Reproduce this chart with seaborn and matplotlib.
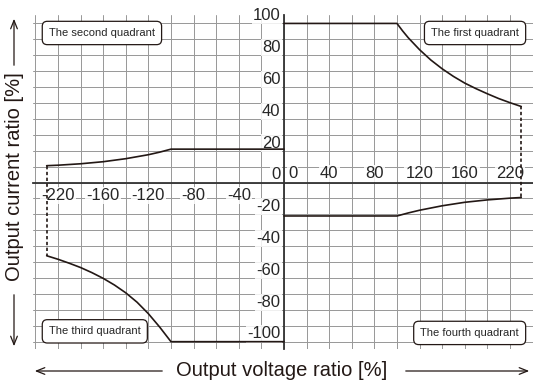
import numpy as np
import matplotlib
matplotlib.use("Agg")
import matplotlib.pyplot as plt
import seaborn as sns

# Data (output voltage ratio [%] vs output current ratio [%])
q1_volt = [0, 100, 105, 110, 120, 130, 140, 150, 160, 170, 180, 190, 200, 210]
q1_curr = [100, 100, 95.3, 91, 83.5, 77, 71.5, 66.7, 62.5, 59, 55.8, 52.8, 50.2, 47.8]

q2_volt = [0, -100, -110, -120, -140, -160, -180, -200, -210]
q2_curr = [21, 21, 19.1, 17.5, 15, 13.1, 11.8, 10.9, 10.6]

q3_volt = [-210, -200, -190, -180, -170, -160, -150, -140, -130, -120, -110, -105, -100, 0]
q3_curr = [-46, -48.2, -50.7, -53.4, -56.6, -60.2, -64.4, -69.3, -75.2, -82.4, -90.8, -95.4, -100, -100]

q4_volt = [0, 100, 110, 120, 140, 160, 180, 200, 210]
q4_curr = [-21, -21, -19.1, -17.4, -14.6, -12.4, -10.9, -9.8, -9.4]

# tick labels as printed on the chart
xlab_pos_right = [0, 40, 80, 120, 160, 200]
xlab_text_right = ["0", "40", "80", "120", "160", "220"]
xlab_pos_left = [-200, -160, -120, -80, -40]
xlab_text_left = ["-220", "-160", "-120", "-80", "-40"]
ylab_pos = [100, 80, 60, 40, 20, 0, -20, -40, -60, -80, -100]
ylab_text = [str(v) for v in ylab_pos]

quadrant_names = ["The first quadrant", "The second quadrant",
                  "The third quadrant", "The fourth quadrant"]

sns.set_theme(style="white")
plt.rcParams["font.family"] = ["Liberation Sans", "DejaVu Sans"]

W, H = 533, 382
fig = plt.figure(figsize=(W / 100, H / 100), dpi=100)
fig.patch.set_facecolor("white")


def fx(px):
    return px / W


def fy(py):
    return 1 - py / H


ax = fig.add_axes([fx(33), fy(349), 500 / W, 334 / H])
ax.set_facecolor("white")
ax.set_xlim(-222.1, 220.4)
ax.set_ylim(-104.6, 105.3)

line_c = "#231815"
grid_c = "#9a9a9a"
axis_c = "#333333"

# graph paper grid
ax.set_xticks(np.arange(-220, 221, 20), minor=True)
ax.set_yticks(np.arange(-100, 101, 10), minor=True)
ax.set_xticks([p for p in xlab_pos_left + xlab_pos_right if p != 0])
ax.set_yticks([p for p in ylab_pos if p != 0])
ax.grid(which="both", color=grid_c, lw=0.72, zorder=0)
ax.set_xticklabels([])
ax.set_yticklabels([])
ax.tick_params(which="minor", length=0)
ax.tick_params(which="major", direction="inout", length=5, width=1.0, color=axis_c)

for s in ["top", "right"]:
    ax.spines[s].set_visible(False)
for s in ["left", "bottom"]:
    ax.spines[s].set_position("zero")
    ax.spines[s].set_color(axis_c)
    ax.spines[s].set_linewidth(1.3)
    ax.spines[s].set_zorder(4)

# tick labels (placed like on the original sheet)
lab_box = dict(facecolor="white", edgecolor="none", pad=0.8, alpha=0.85)
for p, t in zip(xlab_pos_right, xlab_text_right):
    if p == 0:
        ax.text(3.5, 2.8, t, ha="left", va="baseline", fontsize=12, bbox=lab_box, zorder=3)
    else:
        ax.text(p, 2.8, t, ha="center", va="baseline", fontsize=12, bbox=lab_box, zorder=3)
for p, t in zip(xlab_pos_left, xlab_text_left):
    ax.text(p, -11, t, ha="center", va="baseline", fontsize=12, bbox=lab_box, zorder=3)
for p, t in zip(ylab_pos, ylab_text):
    ax.text(-3, p + 2, t, ha="right", va="baseline", fontsize=12, bbox=lab_box, zorder=3)

# characteristic curves
for v, c in [(q1_volt, q1_curr), (q2_volt, q2_curr), (q3_volt, q3_curr), (q4_volt, q4_curr)]:
    sns.lineplot(x=v, y=c, sort=False, estimator=None, color=line_c, lw=1.2, ax=ax, zorder=5)

# dotted transitions between quadrants
ax.plot([q1_volt[-1], q4_volt[-1]], [q1_curr[-1], q4_curr[-1]],
        color=line_c, lw=1.2, linestyle=(0, (2, 1.5)), zorder=5)
ax.plot([q2_volt[-1], q3_volt[0]], [q2_curr[-1], q3_curr[0]],
        color=line_c, lw=1.2, linestyle=(0, (2, 1.5)), zorder=5)

# quadrant name boxes
qbox = dict(boxstyle="round,pad=0.6,rounding_size=0.45", facecolor="white",
            edgecolor=line_c, lw=0.9)
ax.text(208, 94, quadrant_names[0], ha="right", va="center", fontsize=8, bbox=qbox, zorder=6)
ax.text(-208, 94, quadrant_names[1], ha="left", va="center", fontsize=8, bbox=qbox, zorder=6)
ax.text(-208, -93.5, quadrant_names[2], ha="left", va="center", fontsize=8, bbox=qbox, zorder=6)
ax.text(208, -94.5, quadrant_names[3], ha="right", va="center", fontsize=8, bbox=qbox, zorder=6)

# axis titles with arrows
fig.text(fx(15), fy(176.5), "Output current ratio [%]", rotation=90,
         ha="center", va="center", fontsize=14.5, color=line_c)
fig.text(fx(282), fy(371), "Output voltage ratio [%]",
         ha="center", va="center", fontsize=14.5, color=line_c)
arr = dict(arrowstyle="->,head_length=0.5,head_width=0.2", color=line_c, lw=0.9)
for start, end in [((14, 68), (14, 16)), ((14, 292), (14, 349)),
                   ((165, 371), (32, 371)), ((403, 371), (532, 371))]:
    ax.annotate("", xy=(fx(end[0]), fy(end[1])), xytext=(fx(start[0]), fy(start[1])),
                xycoords="figure fraction", textcoords="figure fraction",
                arrowprops=arr, annotation_clip=False)

fig.savefig("out.png", dpi=100, facecolor="white")
